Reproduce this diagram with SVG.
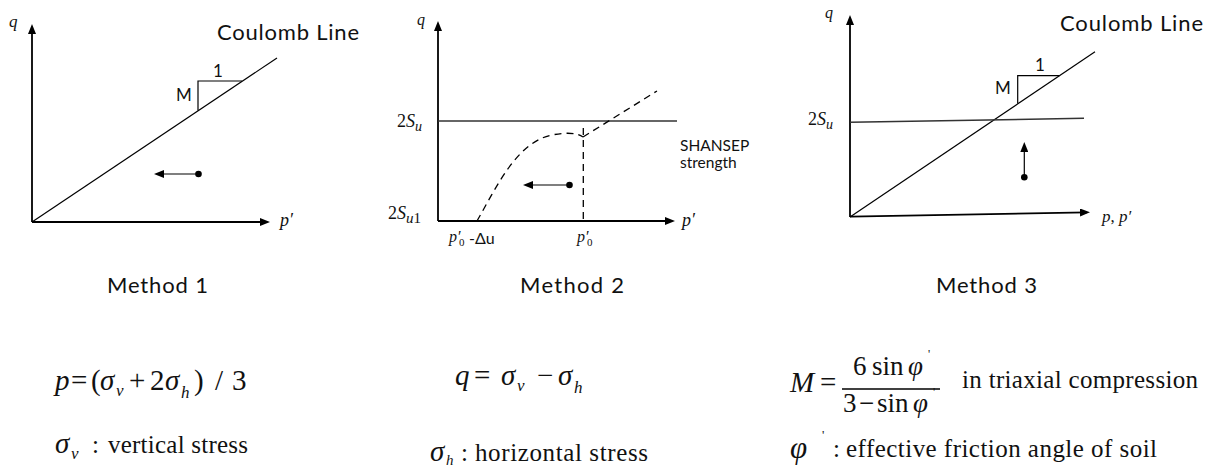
<svg xmlns="http://www.w3.org/2000/svg" width="1215" height="468" viewBox="0 0 1215 468">
<defs>
<style>
.ax{stroke:#000;stroke-width:1.8;fill:none}
.ln{stroke:#000;stroke-width:1.2;fill:none}
.su{stroke:#333;stroke-width:1.4;fill:none}
.dash{stroke:#000;stroke-width:1.3;fill:none;stroke-dasharray:7 5}
.sans{font-family:Lato,"Open Sans","Liberation Sans",sans-serif;fill:#111}
.serif{font-family:"Liberation Serif","Times New Roman",serif;fill:#111}
.it{font-style:italic}
.lbl{font-size:22px}
.sm{font-size:17px}
.f{font-size:25px}
.fr{font-size:27px}
.fm{font-size:29px}
.sub{font-size:17px}
</style>
<marker id="ah" markerUnits="userSpaceOnUse" markerWidth="10" markerHeight="8" refX="7" refY="4" orient="auto"><path d="M0,0L10,4L0,8Z" fill="#000"/></marker>
<marker id="sa" markerUnits="userSpaceOnUse" markerWidth="10" markerHeight="8" refX="7" refY="4" orient="auto"><path d="M0,0L10,4L0,8Z" fill="#000"/></marker>
</defs>
<rect width="1215" height="468" fill="#fff"/>

<g id="method1">
<line class="ax" x1="32" y1="222" x2="32" y2="27" marker-end="url(#ah)"/>
<line class="ax" x1="32" y1="222" x2="267" y2="222" marker-end="url(#ah)"/>
<line class="ln" x1="32" y1="222" x2="277" y2="58"/>
<polyline class="ln" points="198,110.5 198,81 242,81"/>
<text class="sans sm" x="218" y="77" text-anchor="middle">1</text>
<text class="sans sm" x="176" y="101">M</text>
<text class="sans lbl" x="217" y="40" textLength="142">Coulomb Line</text>
<text class="serif it" x="9" y="27" font-size="17">q</text>
<text class="serif it" x="280" y="226" font-size="18">p′</text>
<text class="sans lbl" x="107" y="293" textLength="101">Method 1</text>
</g>

<g id="method2">
<line class="ax" x1="438" y1="221" x2="438" y2="24" marker-end="url(#ah)"/>
<line class="ax" x1="438" y1="221" x2="672" y2="221" marker-end="url(#ah)"/>
<line class="su" x1="438" y1="121" x2="677" y2="121"/>
<path class="dash" d="M477,221 C497,186 517,142 552,135 C567,132 577,133 583,137"/>
<path class="dash" d="M583,137 L657,91"/>
<path class="dash" d="M583.3,128 L583.3,221"/>
<text class="serif it" x="417" y="25" font-size="16">q</text>
<text class="serif it" x="682" y="226" font-size="18">p′</text>
<text class="serif" x="397" y="127" font-size="18">2<tspan class="it">S</tspan></text>
<text class="serif it" x="415" y="131" font-size="14">u</text>
<text class="serif" x="388" y="219" font-size="18">2<tspan class="it">S</tspan></text>
<text class="serif" x="406" y="223" font-size="15"><tspan class="it">u</tspan>1</text>
<text class="sans" x="680" y="151" font-size="15.5">SHANSEP</text>
<text class="sans" x="680" y="168" font-size="15.5">strength</text>
<text class="serif it" x="449" y="242" font-size="16">p′</text>
<text class="serif" x="459" y="246" font-size="11">0</text>
<text class="sans" x="469" y="244" font-size="16">-Δu</text>
<text class="serif it" x="577" y="242" font-size="16">p′</text>
<text class="serif" x="587" y="246" font-size="11">0</text>
<text class="sans lbl" x="520" y="293" textLength="104">Method 2</text>
</g>

<g id="method3">
<line class="ax" x1="850" y1="217" x2="850" y2="18" marker-end="url(#ah)"/>
<line class="ax" x1="850" y1="216.7" x2="1087" y2="212.4" marker-end="url(#ah)"/>
<line class="ln" x1="850" y1="217" x2="1095" y2="51.7"/>
<line class="su" x1="850" y1="122.3" x2="1084" y2="118.3"/>
<polyline class="ln" points="1017.7,103.5 1017.7,75.7 1059.5,75.7"/>
<text class="sans sm" x="1040" y="71" text-anchor="middle">1</text>
<text class="sans sm" x="995" y="94">M</text>
<text class="sans lbl" x="1060" y="31" textLength="143">Coulomb Line</text>
<text class="serif it" x="825" y="18" font-size="16">q</text>
<text class="serif" x="808" y="125" font-size="18">2<tspan class="it">S</tspan></text>
<text class="serif it" x="826" y="129" font-size="14">u</text>
<text class="serif it" x="1102" y="222" font-size="17">p<tspan font-style="normal">,</tspan> p′</text>
<text class="sans lbl" x="936" y="293" textLength="101">Method 3</text>
</g>

<g id="connectors">
<line class="ln" x1="198" y1="174" x2="157" y2="174" stroke-width="1.5" marker-end="url(#sa)"/>
<circle cx="198.5" cy="174" r="3.3" fill="#000"/>
<line class="ln" x1="569.5" y1="185" x2="526" y2="185" stroke-width="1.5" marker-end="url(#sa)"/>
<circle cx="569.5" cy="185" r="3.3" fill="#000"/>
<line class="ln" x1="1024.3" y1="177.3" x2="1024.3" y2="145" stroke-width="1.5" marker-end="url(#sa)"/>
<circle cx="1024.3" cy="177.3" r="3.3" fill="#000"/>
</g>

<g id="formula1">
<text class="serif it fm" x="55" y="390">p</text>
<text class="serif fm" x="71" y="390">=</text>
<text class="serif fm" x="91" y="390">(</text>
<text class="serif it fm" x="100" y="390">σ</text>
<text class="serif it sub" x="116" y="396">v</text>
<text class="serif fm" x="129" y="390">+</text>
<text class="serif fm" x="150" y="390">2</text>
<text class="serif it fm" x="165" y="390">σ</text>
<text class="serif it sub" x="181" y="398">h</text>
<text class="serif fm" x="194" y="390">)</text>
<text class="serif fm" x="215" y="390">/</text>
<text class="serif fm" x="232" y="390">3</text>
<text class="serif it fm" x="55" y="453">σ</text>
<text class="serif it sub" x="71" y="459">v</text>
<text class="serif f" x="92" y="453">:</text>
<text class="serif f" x="108" y="453" textLength="140">vertical stress</text>
</g>

<g id="formula2">
<text class="serif it fm" x="455" y="385">q</text>
<text class="serif fm" x="474" y="385">=</text>
<text class="serif it fm" x="501" y="385">σ</text>
<text class="serif it sub" x="517" y="391">v</text>
<text class="serif fm" x="537" y="385">−</text>
<text class="serif it fm" x="558" y="385">σ</text>
<text class="serif it sub" x="574" y="393">h</text>
<text class="serif it fm" x="430" y="461">σ</text>
<text class="serif it" x="446" y="465" font-size="15">h</text>
<text class="serif f" x="461" y="461">:</text>
<text class="serif f" x="475" y="461" textLength="173">horizontal stress</text>
</g>

<g id="formula3">
<text class="serif it fm" x="790" y="392">M</text>
<text class="serif fm" x="820" y="392">=</text>
<line x1="842" y1="389" x2="940" y2="389" stroke="#000" stroke-width="1.3"/>
<text class="serif fr" x="853" y="375">6</text>
<text class="serif fr" x="872" y="375">sin</text>
<text class="serif it fr" x="908" y="375">φ</text>
<text class="serif" x="928" y="358" font-size="12">'</text>
<text class="serif fr" x="843" y="412">3</text>
<text class="serif fr" x="859" y="412">−</text>
<text class="serif fr" x="877" y="412">sin</text>
<text class="serif it fr" x="913" y="412">φ</text>
<text class="serif" x="933" y="396" font-size="12">'</text>
<text class="serif f" x="962" y="388" textLength="236">in triaxial compression</text>
<text class="serif it" x="790" y="458" font-size="31">φ</text>
<text class="serif" x="822" y="439" font-size="13">'</text>
<text class="serif f" x="833" y="457">:</text>
<text class="serif f" x="846" y="457" textLength="311">effective friction angle of soil</text>
</g>
</svg>
